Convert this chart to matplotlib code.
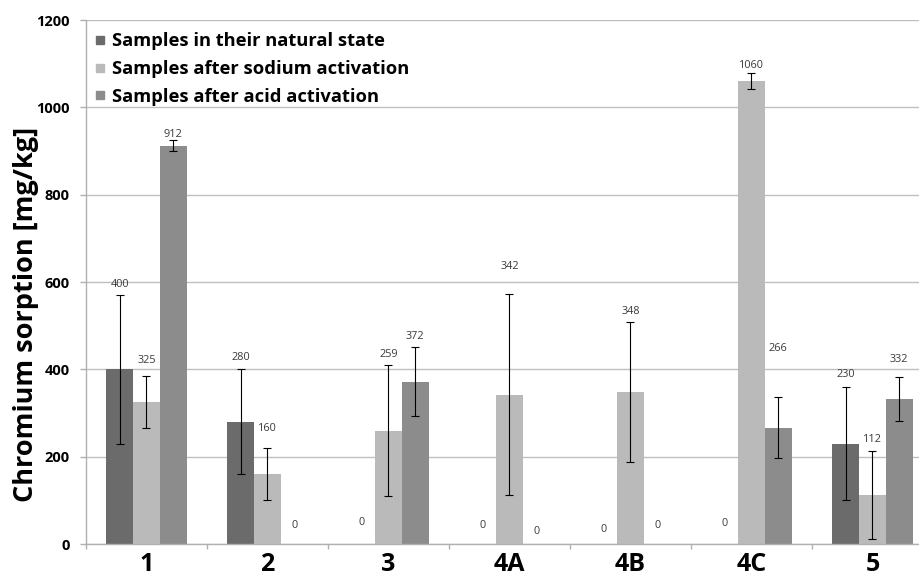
import matplotlib
matplotlib.use("Agg")
import matplotlib.pyplot as plt
import numpy as np
from matplotlib.patches import Rectangle

# ---- data ----
categories = ["1", "2", "3", "4A", "4B", "4C", "5"]
series_names = [
    "Samples in their natural state",
    "Samples after sodium activation",
    "Samples after acid activation",
]
natural = [400, 280, 0, 0, 0, 0, 230]
sodium = [325, 160, 259, 342, 348, 1060, 112]
acid = [912, 0, 372, 0, 0, 266, 332]
natural_err = [170, 120, 0, 0, 0, 0, 130]
sodium_err = [60, 60, 150, 230, 160, 18, 100]
acid_err = [13, 0, 80, 0, 0, 70, 50]
y_ticks = [0, 200, 400, 600, 800, 1000, 1200]

# ---- style ----
colors = ["#6b6b6b", "#bababa", "#8c8c8c"]
grid_color = "#bfbfbf"
axis_color = "#b0b0b0"
# vertical lift (pixels) of each value label above its error bar top
label_lift_px = [
    [11, 12, 21.5, 18, 15, 21, 12],
    [15, 19, 10.5, 27.5, 11, 8, 12],
    [6, 19, 10, 12, 18, 48.5, 17.5],
]

plt.rcParams["font.family"] = ["Open Sans", "DejaVu Sans"]

W, H, DPI = 920, 577, 100
PT = 72 / DPI  # points per pixel
fig = plt.figure(figsize=(W / DPI, H / DPI), dpi=DPI)
ax = fig.add_axes([86 / W, 33 / H, 847 / W, 524 / H])

x = np.arange(len(categories))
bar_w = 0.2215
series = [natural, sodium, acid]
errors = [natural_err, sodium_err, acid_err]

for i, (vals, errs, col) in enumerate(zip(series, errors, colors)):
    xs = x + (i - 1) * bar_w
    ax.bar(xs, vals, width=bar_w, color=col, zorder=2)
    vals_a = np.array(vals, dtype=float)
    errs_a = np.array(errs, dtype=float)
    m = errs_a > 0
    ax.errorbar(xs[m], vals_a[m], yerr=errs_a[m], fmt="none", ecolor="black",
                elinewidth=0.8, capsize=2.6, capthick=0.8, zorder=3)
    for xi, v, e, lift in zip(xs, vals, errs, label_lift_px[i]):
        ax.annotate(f"{v}", (xi, v + e), xytext=(0, lift * PT),
                    textcoords="offset points", ha="center", va="center",
                    fontsize=7.8, color="#3a3a3a", zorder=4)

ax.set_xlim(-0.5, len(categories) - 0.5)
ax.set_ylim(0, 1200)
ax.set_yticks(y_ticks)
ax.set_yticklabels([str(t) for t in y_ticks], fontsize=10.5, fontweight="bold")
ax.yaxis.grid(True, color=grid_color, linewidth=1.0, zorder=0)
ax.set_axisbelow(True)

ax.set_xticks(x)
ax.set_xticklabels(categories, fontsize=18, fontweight="bold")
ax.set_xticks(np.arange(-0.5, len(categories)), minor=True)
ax.tick_params(axis="x", which="major", length=0, pad=6)
ax.tick_params(axis="x", which="minor", length=5 * PT, color=axis_color, width=1.0)
ax.tick_params(axis="y", length=6 * PT, color=axis_color, width=1.0, pad=7.5)

for s in ("top", "right"):
    ax.spines[s].set_visible(False)
for s in ("left", "bottom"):
    ax.spines[s].set_color(axis_color)
    ax.spines[s].set_linewidth(1.0)

fig.text(26 / W, 1 - 314 / H, "Chromium sorption [mg/kg]", rotation=90,
         ha="center", va="center", fontsize=19.5, fontweight="bold")

# legend drawn as squares with text
for k, (name, col) in enumerate(zip(series_names, colors)):
    base = 46.5 + 27.5 * k
    fig.patches.append(Rectangle((96 / W, 1 - (base - 2.5) / H), 8 / W, 8 / H,
                                 transform=fig.transFigure, color=col))
    fig.text(112 / W, 1 - base / H, name, ha="left", va="baseline",
             fontsize=13.2, fontweight="bold")

fig.savefig("out.png", dpi=DPI)
